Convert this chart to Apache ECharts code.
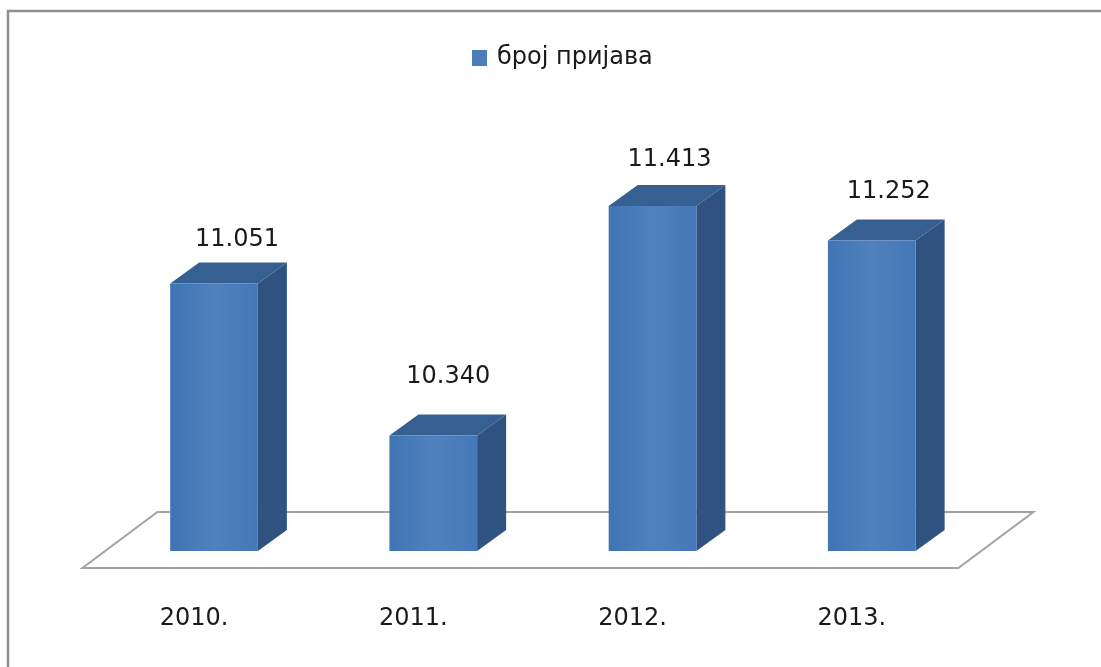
<!DOCTYPE html>
<html><head><meta charset="utf-8">
<style>html,body{margin:0;padding:0;background:#fff}#c{width:1101px;height:667px}</style>
<script src="https://cdn.jsdelivr.net/npm/echarts@6/dist/echarts.min.js"></script>
</head><body><div id="c"></div>
<script>
const categories = ['2010.', '2011.', '2012.', '2013.'];
const seriesName = 'број пријава';
const values = [11.051, 10.340, 11.413, 11.252];
const labelOffsetX = [23, 15, 17, 17];
const labelOffsetY = [44, 59, 46, 49];
const depthX = 29, depthY = 21;
const FONT = '"DejaVu Sans", sans-serif';

const chart = echarts.init(document.getElementById('c'), null, {renderer: 'canvas'});
chart.setOption({
  animation: false,
  backgroundColor: '#fff',
  graphic: [{type: 'polyline', z: -1, shape: {points: [[8, 667], [8, 11], [1101, 11]]},
    style: {fill: 'none', stroke: '#8f8f8f', lineWidth: 2.5}}],
  legend: {
    show: true, top: 41, left: 467, icon: 'rect', itemWidth: 15, itemHeight: 16, itemGap: 8,
    data: [seriesName],
    textStyle: {fontFamily: FONT, fontSize: 24, color: '#1a1a1a', padding: [2, 0, 0, 5]}
  },
  grid: {left: 104.4, width: 877, top: 166, height: 385},
  xAxis: {type: 'category', data: categories,
    axisLine: {show: false}, axisTick: {show: false}, splitLine: {show: false},
    axisLabel: {margin: 56, padding: [0, 40, 0, 0], fontFamily: FONT, fontSize: 24, color: '#1a1a1a'}},
  yAxis: {type: 'value', min: 9.8, max: 11.6, interval: 0.2, show: false, splitLine: {show: false}},
  series: [
    {
      type: 'custom', name: 'floor', coordinateSystem: 'cartesian2d', silent: true, z: 1,
      data: [[categories[0], values[0]]], encode: {x: 0, y: 1},
      renderItem(params, api) {
        const r = params.coordSys;
        const base = r.y + r.height;
        return {type: 'polygon', shape: {points: [
            [r.x + 53, base - 39], [r.x + r.width + 52, base - 39],
            [r.x + r.width - 23, base + 17], [r.x - 22, base + 17]]},
          style: {fill: '#fff', stroke: '#a3a3a3', lineWidth: 2}};
      }
    },
    {
      type: 'custom', name: seriesName, coordinateSystem: 'cartesian2d', z: 2,
      itemStyle: {color: '#4a7ebb'},
      data: categories.map((c, i) => [i, values[i]]), encode: {x: 0, y: 1},
      renderItem(params, api) {
        const i = params.dataIndex;
        const p = api.coord([api.value(0), api.value(1)]);
        const b = api.coord([api.value(0), 9.8]);
        const w = api.size([1, 0])[0] * 0.4;
        const x0 = p[0] - w / 2, x1 = p[0] + w / 2, yt = p[1], yb = b[1];
        const grad = (a, c, d) => new echarts.graphic.LinearGradient(0, 0, 1, 0, [
          {offset: 0, color: a}, {offset: 0.5, color: c}, {offset: 1, color: d}]);
        return {type: 'group', children: [
          {type: 'polygon', shape: {points: [[x1, yt], [x1 + depthX, yt - depthY], [x1 + depthX, yb - depthY], [x1, yb]]},
            style: {fill: '#2f5280'}},
          {type: 'polygon', shape: {points: [[x0, yt], [x0 + depthX, yt - depthY], [x1 + depthX, yt - depthY], [x1, yt]]},
            style: {fill: '#376092'}},
          {type: 'rect', shape: {x: x0, y: yt, width: w, height: yb - yt},
            style: {fill: grad('#3f74b5', '#4f81bd', '#4578b8')}},
          {type: 'text', x: p[0] + labelOffsetX[i], y: yt - labelOffsetY[i],
            style: {text: values[i].toFixed(3), fontFamily: FONT, fontSize: 24, fill: '#1a1a1a', align: 'center', verticalAlign: 'middle'}}
        ]};
      }
    }
  ]
});
</script></body></html>
